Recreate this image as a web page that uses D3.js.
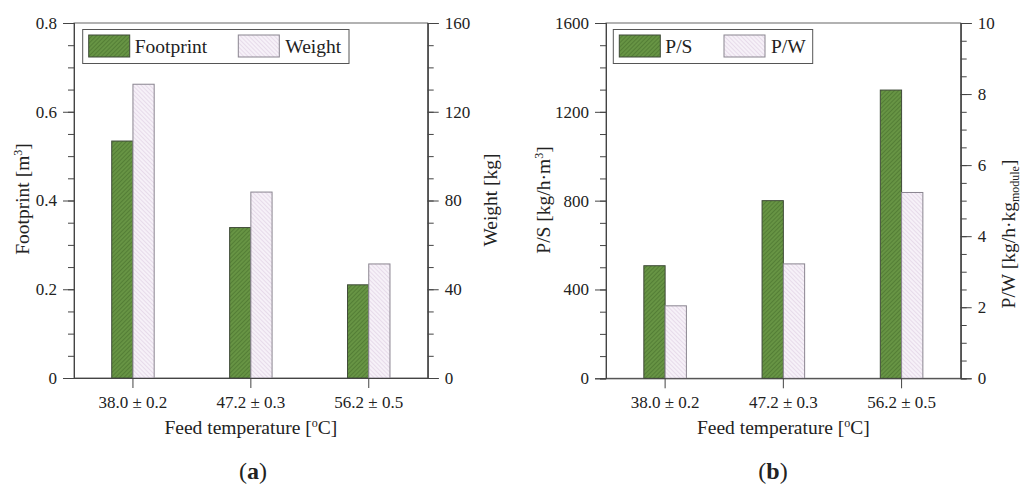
<!DOCTYPE html>
<html><head><meta charset="utf-8">
<script src="https://cdn.jsdelivr.net/npm/d3@7"></script>
<style>body{margin:0;background:#fff}svg{display:block}text{font-family:"Liberation Serif","Times New Roman",serif;fill:#222}</style>
</head><body><svg id="c" width="1023" height="488"></svg>
<script>
const categories = ["38.0 ± 0.2", "47.2 ± 0.3", "56.2 ± 0.5"];
const footprint = [0.534, 0.339, 0.21];
const weight = [132.4, 83.8, 51.4];
const ps = [507, 800, 1298];
const pw = [2.04, 3.22, 5.23];
const leftTicksA = [0, 0.2, 0.4, 0.6, 0.8];
const rightTicksA = [0, 40, 80, 120, 160];
const leftTicksB = [0, 400, 800, 1200, 1600];
const rightTicksB = [0, 2, 4, 6, 8, 10];

const svg = d3.select("#c");
const defs = svg.append("defs");
function hatch(id, bg, line, dir) {
  const p = defs.append("pattern").attr("id", id).attr("patternUnits", "userSpaceOnUse")
    .attr("width", 3).attr("height", 3).attr("patternTransform", `rotate(${dir})`);
  p.append("rect").attr("width", 3).attr("height", 3).attr("fill", bg);
  p.append("line").attr("x1", 0).attr("y1", 0).attr("x2", 0).attr("y2", 3).attr("stroke", line).attr("stroke-width", 1.2);
}
hatch("g", "#679444", "#466f2c", 45);
hatch("w", "#f6f1f8", "#ddcde2", -45);

const FS = 19.5;
function panel(o) {
  const g = svg.append("g");
  const x = d3.scaleBand().domain(categories).range([o.x0, o.x1]);
  const yl = d3.scaleLinear().domain([0, o.lmax]).range([o.y1, o.y0]);
  const yr = d3.scaleLinear().domain([0, o.rmax]).range([o.y1, o.y0]);
  const bw = x.bandwidth() * 0.18;
  g.append("rect").attr("x", o.x0).attr("y", o.y0).attr("width", o.x1 - o.x0).attr("height", o.y1 - o.y0)
    .attr("fill", "none").attr("stroke", "#666").attr("stroke-width", 1);
  g.selectAll(".a").data(o.lv).join("rect")
    .attr("x", (d, i) => x(categories[i]) + x.bandwidth() / 2 - bw).attr("width", bw)
    .attr("y", d => yl(d)).attr("height", d => o.y1 - yl(d))
    .attr("fill", "url(#g)").attr("stroke", "#3f4a38").attr("stroke-width", 1);
  g.selectAll(".b").data(o.rv).join("rect")
    .attr("x", (d, i) => x(categories[i]) + x.bandwidth() / 2).attr("width", bw)
    .attr("y", d => yr(d)).attr("height", d => o.y1 - yr(d))
    .attr("fill", "url(#w)").attr("stroke", "#8a8590").attr("stroke-width", 1);
  const style = a => { a.select(".domain").attr("stroke", "#444");
    a.selectAll("line").attr("stroke", "#444");
    a.selectAll("text").attr("font-size", 17).attr("fill", "#222"); };
  const lMinor = d3.range(0, o.lmax + 1e-9, o.lmax / 16);
  const rMinor = d3.range(0, o.rmax + 1e-9, o.rmax / o.rdiv);
  g.append("g").attr("transform", `translate(${o.x0},0)`)
    .call(d3.axisLeft(yl).tickValues(lMinor).tickSize(6).tickFormat("")).call(style);
  g.append("g").attr("transform", `translate(${o.x0},0)`)
    .call(d3.axisLeft(yl).tickValues(o.lt).tickSize(11).tickPadding(6).tickFormat(d => d)).call(style);
  g.append("g").attr("transform", `translate(${o.x1},0)`)
    .call(d3.axisRight(yr).tickValues(rMinor).tickSize(6).tickFormat("")).call(style);
  g.append("g").attr("transform", `translate(${o.x1},0)`)
    .call(d3.axisRight(yr).tickValues(o.rt).tickSize(11).tickPadding(6).tickFormat(d => d)).call(style);
  g.append("g").attr("transform", `translate(0,${o.y1})`)
    .call(d3.axisBottom(x).tickSize(10).tickPadding(8).tickSizeOuter(0)).call(style);
  const xt = g.append("text").attr("x", (o.x0 + o.x1) / 2).attr("y", 434).attr("text-anchor", "middle").attr("font-size", FS);
  xt.append("tspan").text("Feed temperature [");
  xt.append("tspan").attr("font-size", 12).attr("dy", -7).text("o");
  xt.append("tspan").attr("dy", 7).text("C]");
  const lt = g.append("text").attr("transform", `translate(${o.lx},${o.lcy}) rotate(-90)`).attr("text-anchor", "middle").attr("font-size", FS);
  o.ltitle(lt);
  const rt = g.append("text").attr("transform", `translate(${o.rx},${o.rcy}) rotate(-90)`).attr("text-anchor", "middle").attr("font-size", FS);
  o.rtitle(rt);
  const L = g.append("g");
  L.append("rect").attr("x", o.lg[0]).attr("y", 29.5).attr("width", o.lg[1] - o.lg[0]).attr("height", 34)
    .attr("fill", "#fff").attr("stroke", "#555");
  L.append("rect").attr("x", o.lg[0] + 6).attr("y", 35).attr("width", 41).attr("height", 22).attr("fill", "url(#g)").attr("stroke", "#3f4a38");
  L.append("text").attr("x", o.lg[0] + 52).attr("y", 53).attr("font-size", FS).text(o.names[0]);
  L.append("rect").attr("x", o.lg[2]).attr("y", 35).attr("width", 41).attr("height", 22).attr("fill", "url(#w)").attr("stroke", "#8a8590");
  L.append("text").attr("x", o.lg[2] + 47).attr("y", 53).attr("font-size", FS).text(o.names[1]);
  const pl = svg.append("text").attr("x", o.plx).attr("y", 479).attr("text-anchor", "middle").attr("font-size", 24);
  pl.append("tspan").text("(");
  pl.append("tspan").attr("font-weight", "bold").text(o.plabel);
  pl.append("tspan").text(")");
}

panel({x0: 74, x1: 427.7, y0: 23, y1: 378, lmax: 0.8, rmax: 160, rdiv: 16,
  lt: leftTicksA, rt: rightTicksA, lv: footprint, rv: weight,
  lx: 29, lcy: 199, rx: 497, rcy: 200,
  ltitle: t => { t.append("tspan").text("Footprint [m"); t.append("tspan").attr("font-size", 12).attr("dy", -7).text("3"); t.append("tspan").attr("dy", 7).text("]"); },
  rtitle: t => t.text("Weight [kg]"),
  lg: [82.7, 349, 238.3], names: ["Footprint", "Weight"], plx: 253, plabel: "a"});

panel({x0: 606, x1: 960.7, y0: 23, y1: 378.3, lmax: 1600, rmax: 10, rdiv: 20,
  lt: leftTicksB, rt: rightTicksB, lv: ps, rv: pw,
  lx: 550, lcy: 200, rx: 1015, rcy: 234,
  ltitle: t => { t.append("tspan").text("P/S [kg/h·m"); t.append("tspan").attr("font-size", 12).attr("dy", -7).text("3"); t.append("tspan").attr("dy", 7).text("]"); },
  rtitle: t => { t.append("tspan").text("P/W [kg/h·kg"); t.append("tspan").attr("font-size", 12).attr("dy", 3.5).text("module"); t.append("tspan").attr("dy", -3.5).text("]"); },
  lg: [613.3, 812.7, 724], names: ["P/S", "P/W"], plx: 773, plabel: "b"});
</script></body></html>
